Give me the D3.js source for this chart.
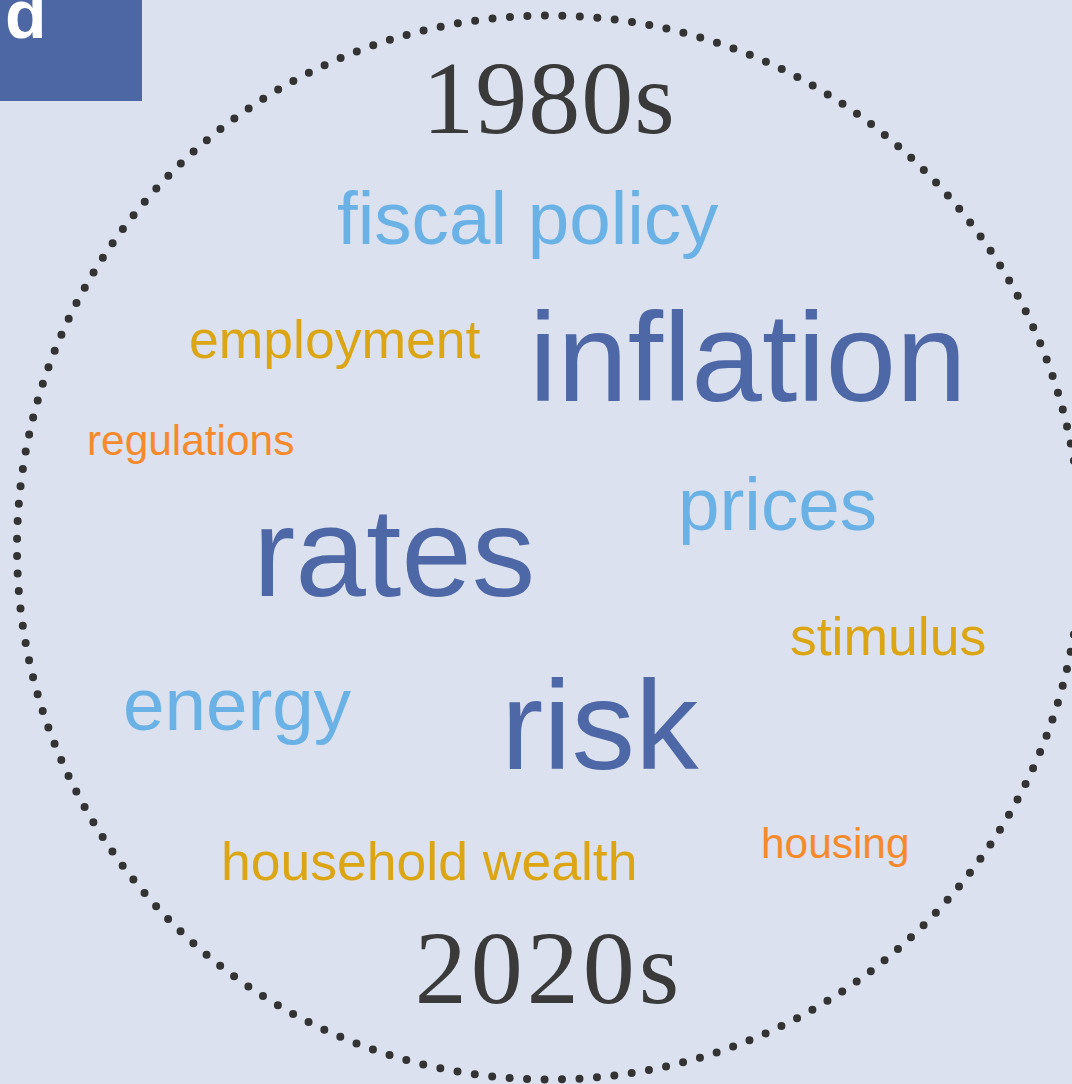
<!DOCTYPE html>
<html lang="en">
  <head>
    <meta charset="UTF-8" />
    <title>Word circle</title>
    <script src="https://cdn.jsdelivr.net/npm/d3@7"></script>
    <style>
      html, body {
        margin: 0;
        padding: 0;
        background: #dbe1ef;
        overflow: hidden;
      }
      .word {
        font-family: "Liberation Sans", Arial, sans-serif;
      }
      .era {
        font-family: "Liberation Serif", Georgia, serif;
        fill: #3a3a3a;
        text-anchor: middle;
      }
    </style>
  </head>
  <body></body>
  <script>
    // words and how strongly each one is weighted (1 = small, 4 = big)
    const words = [
      "fiscal policy", "employment", "inflation", "regulations", "rates",
      "prices", "stimulus", "energy", "risk", "household wealth", "housing"
    ];
    const weights = [3, 2, 4, 1, 4, 3, 2, 3, 4, 2, 1];
    const eras = ["1980s", "2020s"];
    const panelLabel = "d";

    // where each word sits (left edge, baseline)
    const layout = [
      [337, 244], [189, 358], [529, 401], [87, 455], [253, 596],
      [678, 530], [790, 655], [123, 730], [501, 769], [221, 880], [761, 858]
    ];

    const width = 1072, height = 1084;

    const size = d3.scaleOrdinal().domain([1, 2, 3, 4]).range([42.4, 53.5, 74.6, 127]);
    const color = d3.scaleOrdinal().domain([1, 2, 3, 4])
      .range(["#f68a2b", "#dca514", "#6ab1e6", "#4e67a6"]);

    const svg = d3.select("body").append("svg")
      .attr("width", width)
      .attr("height", height);

    svg.append("rect")
      .attr("width", width)
      .attr("height", height)
      .attr("fill", "#dbe1ef");

    // panel tag
    svg.append("rect")
      .attr("width", 142)
      .attr("height", 101)
      .attr("fill", "#4d67a5");
    svg.append("text")
      .attr("x", 5)
      .attr("y", 38)
      .attr("fill", "#fff")
      .style("font-family", "Liberation Sans, Arial, sans-serif")
      .style("font-weight", "bold")
      .style("font-size", "68px")
      .text(panelLabel);

    // dotted ring
    const cx = 549, cy = 547.5, r = 532;
    const circ = 2 * Math.PI * r;
    svg.append("circle")
      .attr("cx", cx)
      .attr("cy", cy)
      .attr("r", r)
      .attr("fill", "none")
      .attr("stroke", "#333")
      .attr("stroke-width", 8)
      .attr("stroke-linecap", "round")
      .attr("stroke-dasharray", `0 ${circ / 191}`);

    svg.selectAll("text.era")
      .data(eras)
      .enter()
      .append("text")
      .attr("class", "era")
      .attr("x", cx)
      .attr("y", (d, i) => (i === 0 ? 133 : 1003))
      .style("font-size", "104px")
      .style("letter-spacing", (d, i) => (i === 0 ? "1px" : "4px"))
      .text((d) => d);

    svg.selectAll("text.word")
      .data(words)
      .enter()
      .append("text")
      .attr("class", "word")
      .attr("x", (d, i) => layout[i][0])
      .attr("y", (d, i) => layout[i][1])
      .style("font-size", (d, i) => size(weights[i]) + "px")
      .attr("fill", (d, i) => color(weights[i]))
      .text((d) => d);
  </script>
</html>
